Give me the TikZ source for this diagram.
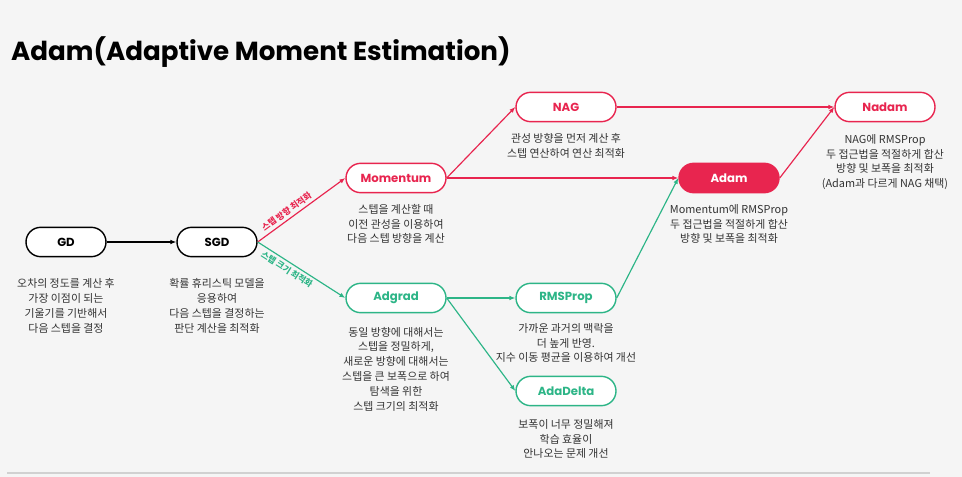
\documentclass[tikz,border=0pt]{standalone}
\usepackage{fontspec}
\setmainfont{Poppins}
\newfontfamily\kr{Noto Sans CJK KR}
\usetikzlibrary{arrows.meta,positioning}
\definecolor{adamred}{HTML}{E8254F}
\definecolor{adamgreen}{HTML}{2DB587}
\definecolor{bggray}{HTML}{F5F5F5}
\definecolor{txtgray}{HTML}{333333}

\begin{document}
\begin{tikzpicture}[
  x=0.3mm, y=-0.3mm,
  >={Latex[length=5pt,width=4pt]},
  algo/.style={rectangle, rounded corners=4.4mm, line width=1.2pt, fill=white,
               minimum width=30mm, minimum height=8.8mm, inner sep=0pt,
               font=\fontsize{10}{12}\selectfont\bfseries},
  blk/.style={algo, draw=black, text=black, minimum width=24mm},
  red/.style={algo, draw=adamred, text=adamred},
  grn/.style={algo, draw=adamgreen, text=adamgreen},
  hot/.style={algo, draw=adamred, fill=adamred, text=white},
  desc/.style={align=center, text=txtgray, inner sep=0pt,
               font=\kr\fontsize{9.3}{12.6}\selectfont},
  redline/.style={->, line width=1pt, adamred},
  grnline/.style={->, line width=1pt, adamgreen},
  elab/.style={font=\kr\fontsize{7.3}{8}\selectfont\bfseries, sloped, inner sep=2.5pt}]
% canvas
\fill[bggray] (0,0) rectangle (962,477);
\useasboundingbox (0,0) rectangle (962,477);
\node[anchor=west, inner sep=0pt, font=\fontsize{22.3}{26}\selectfont\bfseries] (title) at (11,52)
  {Adam(Adaptive Moment Estimation)};
\draw[line width=1.6pt, black!18] (7,473) -- (930,473);
% --- algorithm nodes ---
\node[blk] (gd)    at (66,242)  {GD};
\node[blk] (sgd)   at (217,242) {SGD};
\node[red] (mom)   at (396,178) {Momentum};
\node[grn] (adg)   at (396,298) {Adgrad};
\node[red] (nag)   at (566,107) {NAG};
\node[grn] (rms)   at (566,298) {RMSProp};
\node[grn] (adad)  at (566,391) {AdaDelta};
\node[hot] (adam)  at (729,178) {Adam};
\node[red] (nadam) at (885,107) {Nadam};
% --- descriptions ---
\node[desc] (gdtxt)  at (66,306)  {오차의 정도를 계산 후\\가장 이점이 되는\\기울기를 기반해서\\다음 스텝을 결정};
\node[desc] (sgdtxt) at (217,306) {확률 휴리스틱 모델을\\응용하여\\다음 스텝을 결정하는\\판단 계산을 최적화};
\node[desc] (momtxt) at (396,224) {스텝을 계산할 때\\이전 관성을 이용하여\\다음 스텝 방향을 계산};
\node[desc] (adgtxt) at (396,369) {동일 방향에 대해서는\\스텝을 정밀하게,\\새로운 방향에 대해서는\\스텝을 큰 보폭으로 하여\\탐색을 위한\\스텝 크기의 최적화};
\node[desc] (nagtxt) at (566,146) {관성 방향을 먼저 계산 후\\스텝 연산하여 연산 최적화};
\node[desc] (rmstxt) at (566,343) {가까운 과거의 맥락을\\더 높게 반영.\\지수 이동 평균을 이용하여 개선};
\node[desc] (adadtxt) at (566,439) {보폭이 너무 정밀해져\\학습 효율이\\안나오는 문제 개선};
\node[desc] (adamtxt) at (729,224) {Momentum에 RMSProp\\두 접근법을 적절하게 합산\\방향 및 보폭을 최적화};
\node[desc] (nadamtxt) at (885,162) {NAG에 RMSProp\\두 접근법을 적절하게 합산\\방향 및 보폭을 최적화\\(Adam과 다르게 NAG 채택)};
% --- connectors ---
\draw[->, line width=1pt] (gd) -- (sgd);
\draw[redline] (sgd.east) -- node[elab, above, pos=0.38, text=adamred]{스텝 방향 최적화} (mom.west);
\draw[grnline] (sgd.east) -- node[elab, below, pos=0.38, text=adamgreen]{스텝 크기 최적화} (adg.west);
\draw[redline] (mom.east) -- (nag.west);
\draw[redline] (mom) -- (adam);
\draw[redline] (nag) -- (nadam);
\draw[redline] (adam.east) -- (nadam.west);
\draw[grnline] (adg) -- (rms);
\draw[grnline] (adg.east) -- (adad.west);
\draw[grnline] (rms.east) -- (adam.west);
\end{tikzpicture}
\end{document}
